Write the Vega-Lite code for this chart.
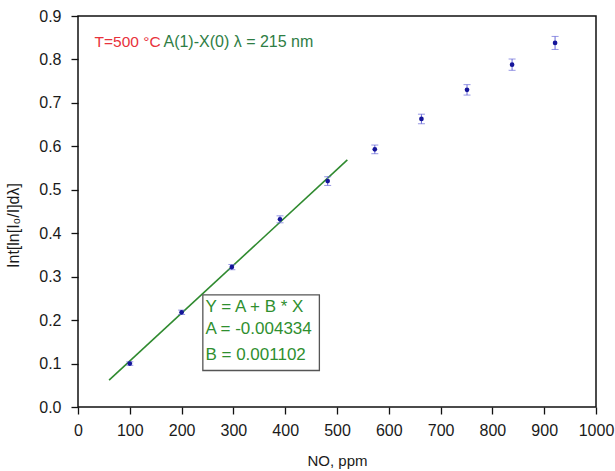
{
  "$schema": "https://vega.github.io/schema/vega-lite/v6.json",
  "width": 518,
  "height": 391,
  "autosize": {"type": "none"},
  "padding": {"left": 78, "top": 16, "right": 19, "bottom": 64},
  "background": "white",
  "config": {
    "font": "Liberation Sans",
    "view": {"stroke": "#111111", "strokeWidth": 1.5},
    "axis": {
      "grid": false,
      "domain": false,
      "tickColor": "#111111",
      "tickWidth": 1.3,
      "labelColor": "#1a1a1a",
      "labelFont": "Liberation Sans",
      "labelFontSize": 16,
      "labelFlush": false,
      "labelOverlap": false,
      "titleFont": "Liberation Sans",
      "titleFontWeight": "normal",
      "titleColor": "#1a1a1a"
    }
  },
  "datasets": {
    "meas": [
      {"NO": 100, "signal": 0.100, "lo": 0.096, "hi": 0.104},
      {"NO": 200, "signal": 0.218, "lo": 0.213, "hi": 0.223},
      {"NO": 297, "signal": 0.322, "lo": 0.316, "hi": 0.328},
      {"NO": 390, "signal": 0.432, "lo": 0.424, "hi": 0.440},
      {"NO": 482, "signal": 0.520, "lo": 0.510, "hi": 0.530},
      {"NO": 573, "signal": 0.593, "lo": 0.583, "hi": 0.603},
      {"NO": 663, "signal": 0.663, "lo": 0.652, "hi": 0.674},
      {"NO": 751, "signal": 0.730, "lo": 0.718, "hi": 0.742},
      {"NO": 838, "signal": 0.788, "lo": 0.775, "hi": 0.801},
      {"NO": 921, "signal": 0.838, "lo": 0.823, "hi": 0.853}
    ],
    "fit": [
      {"NO": 60, "signal": 0.0618},
      {"NO": 520, "signal": 0.5687}
    ]
  },
  "layer": [
    {
      "data": {"name": "fit"},
      "mark": {"type": "line", "color": "#2f8a2f", "strokeWidth": 1.6},
      "encoding": {
        "x": {
          "field": "NO", "type": "quantitative", "title": "NO, ppm",
          "scale": {"domain": [0, 1000], "nice": false, "zero": false},
          "axis": {
            "orient": "bottom",
            "values": [0, 50, 100, 150, 200, 250, 300, 350, 400, 450, 500, 550, 600, 650, 700, 750, 800, 850, 900, 950, 1000],
            "labelExpr": "datum.value % 100 === 0 ? format(datum.value, 'd') : ''",
            "tickSize": 7,
            "tickDash": {"condition": {"test": "datum.value % 100 !== 0", "value": [4, 10]}, "value": [10, 0]},
            "labelPadding": 8,
            "title": "NO, ppm", "titleFontSize": 15,
            "titleBaseline": "alphabetic", "titleY": 58
          }
        },
        "y": {
          "field": "signal", "type": "quantitative", "title": "Int[ln[I₀/I]dλ]",
          "scale": {"domain": [0, 0.9], "nice": false, "zero": false},
          "axis": {
            "orient": "left",
            "values": [0, 0.05, 0.1, 0.15, 0.2, 0.25, 0.3, 0.35, 0.4, 0.45, 0.5, 0.55, 0.6, 0.65, 0.7, 0.75, 0.8, 0.85, 0.9],
            "labelExpr": "round(datum.value * 100) % 10 === 0 ? format(datum.value, '.1f') : ''",
            "tickSize": 7,
            "tickDash": {"condition": {"test": "round(datum.value * 100) % 10 !== 0", "value": [4, 10]}, "value": [10, 0]},
            "labelPadding": 10,
            "title": "Int[ln[I₀/I]dλ]", "titleFontSize": 16,
            "titleBaseline": "alphabetic", "titleX": -60, "titleY": 209, "titleAlign": "center", "titleAngle": -90
          }
        }
      }
    },
    {
      "data": {"name": "meas"},
      "mark": {"type": "errorbar", "color": "#6a6ad8", "thickness": 1, "ticks": {"size": 7, "color": "#6a6ad8"}},
      "encoding": {
        "x": {"field": "NO", "type": "quantitative", "title": "NO, ppm"},
        "y": {"field": "lo", "type": "quantitative", "title": "Int[ln[I₀/I]dλ]"},
        "y2": {"field": "hi"}
      }
    },
    {
      "data": {"name": "meas"},
      "mark": {"type": "point", "filled": true, "shape": "circle", "size": 22, "color": "#15159a", "opacity": 1},
      "encoding": {
        "x": {"field": "NO", "type": "quantitative", "title": "NO, ppm"},
        "y": {"field": "signal", "type": "quantitative", "title": "Int[ln[I₀/I]dλ]"}
      }
    },
    {
      "data": {"values": [{}]},
      "mark": {"type": "rect", "fill": "white", "stroke": "#555555", "strokeWidth": 1.3},
      "encoding": {
        "x": {"datum": 241, "type": "quantitative", "title": "NO, ppm"},
        "x2": {"datum": 466},
        "y": {"datum": 0.258, "type": "quantitative", "title": "Int[ln[I₀/I]dλ]"},
        "y2": {"datum": 0.084}
      }
    },
    {
      "data": {"values": [{"line": "Y = A + B * X", "yv": 0.218}, {"line": "A = -0.004334", "yv": 0.167}, {"line": "B = 0.001102", "yv": 0.108}]},
      "mark": {"type": "text", "align": "left", "baseline": "alphabetic", "fontSize": 17, "color": "#2f8f2f", "font": "Liberation Sans"},
      "encoding": {
        "x": {"datum": 246, "type": "quantitative", "title": "NO, ppm"},
        "y": {"field": "yv", "type": "quantitative", "title": "Int[ln[I₀/I]dλ]"},
        "text": {"field": "line"}
      }
    },
    {
      "data": {"values": [{}]},
      "mark": {"type": "text", "text": "T=500 °C", "align": "left", "baseline": "alphabetic", "fontSize": 15.5, "color": "#e8323c", "font": "Liberation Sans"},
      "encoding": {
        "x": {"datum": 32, "type": "quantitative", "title": "NO, ppm"},
        "y": {"datum": 0.829, "type": "quantitative", "title": "Int[ln[I₀/I]dλ]"}
      }
    },
    {
      "data": {"values": [{}]},
      "mark": {"type": "text", "text": "A(1)-X(0) λ = 215 nm", "align": "left", "baseline": "alphabetic", "fontSize": 16, "color": "#2e7d44", "font": "Liberation Sans"},
      "encoding": {
        "x": {"datum": 165, "type": "quantitative", "title": "NO, ppm"},
        "y": {"datum": 0.829, "type": "quantitative", "title": "Int[ln[I₀/I]dλ]"}
      }
    }
  ]
}
